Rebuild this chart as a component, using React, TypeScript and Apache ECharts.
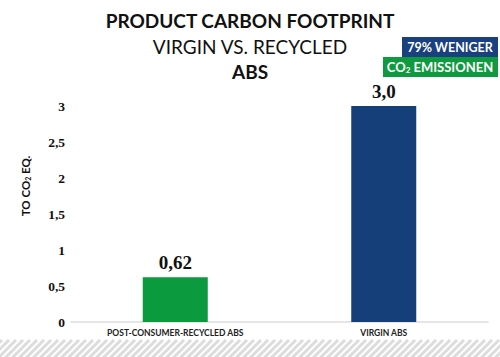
import React, { useEffect, useRef } from "react";
import * as echarts from "echarts";

const categories = ["POST-CONSUMER-RECYCLED ABS", "VIRGIN ABS"];
const values = [0.62, 3.0];
const valueLabels = ["0,62", "3,0"];
const barColors = ["#0b9a3d", "#143f78"];
const yTicks = [0, 0.5, 1, 1.5, 2, 2.5, 3];

export default function App() {
  const ref = useRef<HTMLDivElement>(null);
  useEffect(() => {
    if (!ref.current) return;
    const chart = echarts.init(ref.current, null, { renderer: "svg" });
    const hatch: any[] = [];
    for (let x = -30; x < 520; x += 7) {
      hatch.push({
        type: "line",
        silent: true,
        shape: { x1: x, y1: 358, x2: x + 18, y2: 340 },
        style: { stroke: "#dcdcdc", lineWidth: 3 },
      });
    }
    const sans = "Lato, 'Open Sans', sans-serif";
    chart.setOption({
      animation: false,
      backgroundColor: "#ffffff",
      grid: { left: 71, right: 12, top: 106, bottom: 35, containLabel: false },
      xAxis: {
        type: "category",
        data: categories,
        axisLine: { lineStyle: { color: "#dddddd", width: 1.5 } },
        axisTick: { show: false },
        axisLabel: {
          color: "#222",
          fontFamily: sans,
          fontWeight: "bold",
          fontSize: 8.5,
          margin: 6,
        },
      },
      yAxis: {
        type: "value",
        min: 0,
        max: 3,
        interval: 0.5,
        splitLine: { show: false },
        axisLine: { show: false },
        axisTick: { show: false },
        axisLabel: {
          color: "#111",
          fontFamily: "'Liberation Serif', 'DejaVu Serif', serif",
          fontWeight: "bold",
          fontSize: 13.5,
          margin: 6,
          formatter: (v: number) =>
            yTicks.includes(v) ? String(v).replace(".", ",") : "",
        },
      },
      series: [
        {
          type: "bar",
          barWidth: 65,
          data: values.map((v, i) => ({
            value: v,
            itemStyle: { color: barColors[i] },
            label: {
              show: true,
              position: "top",
              distance: 5,
              formatter: () => valueLabels[i],
              color: "#111",
              fontFamily: "'Liberation Serif', 'DejaVu Serif', serif",
              fontWeight: "bold",
              fontSize: 19,
            },
          })),
        },
      ],
      graphic: [
        ...hatch,
        {
          type: "text",
          x: 250,
          y: 20,
          style: {
            text: "PRODUCT CARBON FOOTPRINT",
            fontFamily: sans,
            fontWeight: "bold",
            fontSize: 19,
            fill: "#111",
            align: "center",
            verticalAlign: "middle",
          },
        },
        {
          type: "text",
          x: 250,
          y: 46,
          style: {
            text: "VIRGIN VS. RECYCLED",
            fontFamily: sans,
            fontSize: 19,
            fill: "#111",
            align: "center",
            verticalAlign: "middle",
          },
        },
        {
          type: "text",
          x: 250,
          y: 71,
          style: {
            text: "ABS",
            fontFamily: sans,
            fontWeight: "bold",
            fontSize: 19,
            fill: "#111",
            align: "center",
            verticalAlign: "middle",
          },
        },
        {
          type: "rect",
          shape: { x: 402, y: 37, width: 96, height: 20 },
          style: { fill: "#1a4080" },
        },
        {
          type: "text",
          x: 450,
          y: 47,
          style: {
            text: "79% WENIGER",
            fontFamily: sans,
            fontWeight: "bold",
            fontSize: 12.5,
            fill: "#ffffff",
            align: "center",
            verticalAlign: "middle",
          },
        },
        {
          type: "rect",
          shape: { x: 383, y: 57, width: 115, height: 20 },
          style: { fill: "#0f9a40" },
        },
        {
          type: "text",
          x: 440,
          y: 67,
          style: {
            text: "{a|CO}{s|2}{a| EMISSIONEN}",
            align: "center",
            verticalAlign: "middle",
            rich: {
              a: { fontFamily: sans, fontWeight: "bold", fontSize: 13, fill: "#ffffff" },
              s: {
                fontFamily: sans,
                fontWeight: "bold",
                fontSize: 8,
                fill: "#ffffff",
                padding: [6, 0, 0, 0],
              },
            },
          },
        },
        {
          type: "text",
          x: 25,
          y: 186,
          rotation: Math.PI / 2,
          style: {
            text: "{a|TO CO}{s|2}{a| EQ.}",
            align: "center",
            verticalAlign: "middle",
            rich: {
              a: { fontFamily: sans, fontWeight: "bold", fontSize: 11.5, fill: "#111" },
              s: {
                fontFamily: sans,
                fontWeight: "bold",
                fontSize: 7,
                fill: "#111",
                padding: [5, 0, 0, 0],
              },
            },
          },
        },
      ],
    });
    return () => chart.dispose();
  }, []);
  return (
    <div
      ref={ref}
      style={{ position: "fixed", left: 0, top: 0, width: 500, height: 357 }}
    />
  );
}
